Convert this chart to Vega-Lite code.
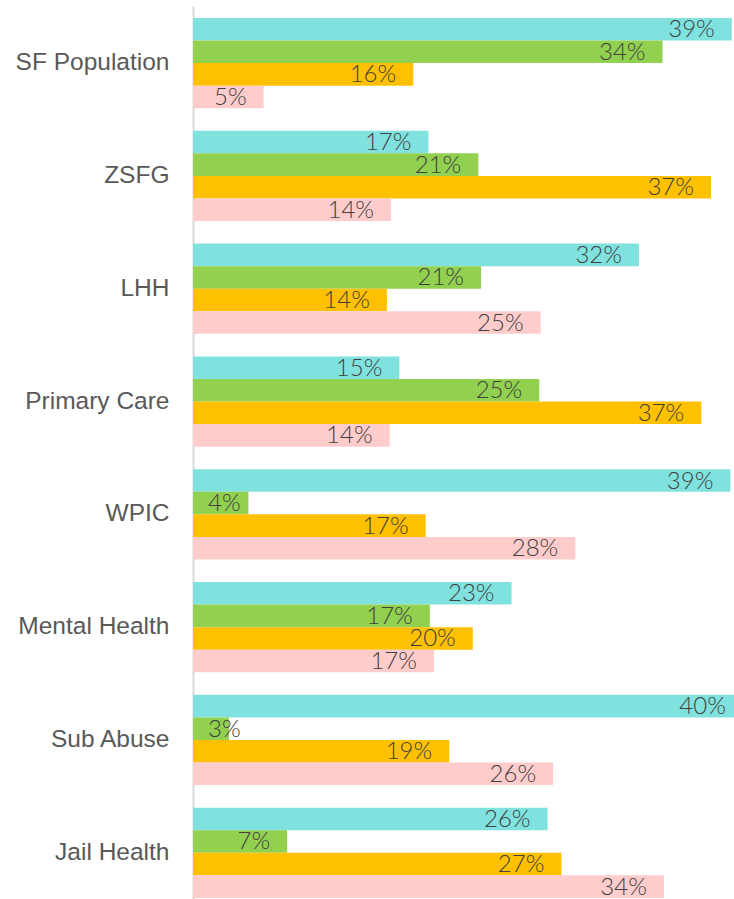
{
  "$schema": "https://vega.github.io/schema/vega-lite/v6.json",
  "width": 541,
  "height": 893,
  "autosize": {"type": "none"},
  "padding": {"left": 193, "top": 6, "right": 0, "bottom": 0},
  "background": "white",
  "config": {"view": {"stroke": null}},
  "data": {
    "values": [
      {"program": "SF Population", "group": "White", "value": 0.389},
      {"program": "SF Population", "group": "Asian", "value": 0.339},
      {"program": "SF Population", "group": "Latinx", "value": 0.159},
      {"program": "SF Population", "group": "Black", "value": 0.051},
      {"program": "ZSFG", "group": "White", "value": 0.170},
      {"program": "ZSFG", "group": "Asian", "value": 0.206},
      {"program": "ZSFG", "group": "Latinx", "value": 0.374},
      {"program": "ZSFG", "group": "Black", "value": 0.143},
      {"program": "LHH", "group": "White", "value": 0.322},
      {"program": "LHH", "group": "Asian", "value": 0.208},
      {"program": "LHH", "group": "Latinx", "value": 0.140},
      {"program": "LHH", "group": "Black", "value": 0.251},
      {"program": "Primary Care", "group": "White", "value": 0.149},
      {"program": "Primary Care", "group": "Asian", "value": 0.250},
      {"program": "Primary Care", "group": "Latinx", "value": 0.367},
      {"program": "Primary Care", "group": "Black", "value": 0.142},
      {"program": "WPIC", "group": "White", "value": 0.388},
      {"program": "WPIC", "group": "Asian", "value": 0.040},
      {"program": "WPIC", "group": "Latinx", "value": 0.168},
      {"program": "WPIC", "group": "Black", "value": 0.276},
      {"program": "Mental Health", "group": "White", "value": 0.230},
      {"program": "Mental Health", "group": "Asian", "value": 0.171},
      {"program": "Mental Health", "group": "Latinx", "value": 0.202},
      {"program": "Mental Health", "group": "Black", "value": 0.174},
      {"program": "Sub Abuse", "group": "White", "value": 0.397},
      {"program": "Sub Abuse", "group": "Asian", "value": 0.026},
      {"program": "Sub Abuse", "group": "Latinx", "value": 0.185},
      {"program": "Sub Abuse", "group": "Black", "value": 0.260},
      {"program": "Jail Health", "group": "White", "value": 0.256},
      {"program": "Jail Health", "group": "Asian", "value": 0.068},
      {"program": "Jail Health", "group": "Latinx", "value": 0.266},
      {"program": "Jail Health", "group": "Black", "value": 0.340}
    ]
  },
  "encoding": {
    "y": {
      "field": "program",
      "type": "nominal",
      "sort": ["SF Population", "ZSFG", "LHH", "Primary Care", "WPIC", "Mental Health", "Sub Abuse", "Jail Health"],
      "scale": {"paddingInner": 0.2, "paddingOuter": 0.058, "align": 0.916},
      "axis": {
        "title": null,
        "ticks": false,
        "labelFont": "Liberation Sans",
        "labelFontSize": 24.5,
        "labelColor": "#595959",
        "labelPadding": 24,
        "labelLimit": 300,
        "domainColor": "#D9D9D9",
        "domainWidth": 2
      }
    },
    "yOffset": {
      "field": "group",
      "type": "nominal",
      "sort": ["White", "Asian", "Latinx", "Black"],
      "scale": {"paddingInner": 0, "paddingOuter": 0}
    }
  },
  "layer": [
    {
      "mark": {"type": "bar", "clip": true},
      "encoding": {
        "x": {"field": "value", "type": "quantitative", "scale": {"domain": [0, 0.3906], "nice": false, "zero": true}, "axis": null},
        "color": {
          "field": "group",
          "type": "nominal",
          "scale": {"domain": ["White", "Asian", "Latinx", "Black"], "range": ["#80E2DE", "#92D050", "#FFC000", "#FFCCCC"]},
          "legend": null
        }
      }
    },
    {
      "transform": [{"filter": "datum.value >= 0.045"}],
      "mark": {"type": "text", "align": "right", "dx": -17, "dy": 1, "baseline": "middle", "font": "Lato", "fontWeight": 300, "fontSize": 24, "color": "#404040"},
      "encoding": {
        "x": {"field": "value", "type": "quantitative"},
        "text": {"field": "value", "type": "quantitative", "format": ".0%"}
      }
    },
    {
      "transform": [{"filter": "datum.value < 0.045"}],
      "mark": {"type": "text", "align": "left", "dx": 15, "dy": 1, "baseline": "middle", "font": "Lato", "fontWeight": 300, "fontSize": 24, "color": "#404040"},
      "encoding": {
        "x": {"datum": 0, "type": "quantitative"},
        "text": {"field": "value", "type": "quantitative", "format": ".0%"}
      }
    }
  ]
}
